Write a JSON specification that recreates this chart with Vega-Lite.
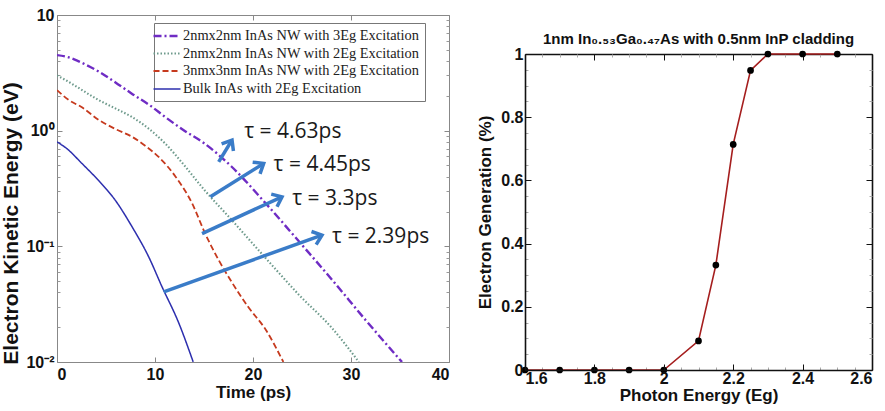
{
  "$schema": "https://vega.github.io/schema/vega-lite/v6.json",
  "background": "white",
  "padding": {"left": 0, "top": 7, "right": 4, "bottom": 2},
  "config": {
    "view": {"stroke": null},
    "axis": {"grid": false, "labelFont": "Liberation Sans", "titleFont": "Liberation Sans", "labelFontWeight": "bold", "titleFontWeight": "bold", "labelColor": "#111", "titleColor": "#111"}
  },
  "spacing": 26,
  "datasets": {
    "decay": [
      {"series": "2nmx2nm InAs NW with 3Eg Excitation", "t": 0, "E": 4.5},
      {"series": "2nmx2nm InAs NW with 3Eg Excitation", "t": 1, "E": 4.35},
      {"series": "2nmx2nm InAs NW with 3Eg Excitation", "t": 2, "E": 4.05},
      {"series": "2nmx2nm InAs NW with 3Eg Excitation", "t": 3, "E": 3.7},
      {"series": "2nmx2nm InAs NW with 3Eg Excitation", "t": 4.25, "E": 3.25},
      {"series": "2nmx2nm InAs NW with 3Eg Excitation", "t": 6, "E": 2.6},
      {"series": "2nmx2nm InAs NW with 3Eg Excitation", "t": 7.6, "E": 2.1},
      {"series": "2nmx2nm InAs NW with 3Eg Excitation", "t": 9.5, "E": 1.65},
      {"series": "2nmx2nm InAs NW with 3Eg Excitation", "t": 11, "E": 1.32},
      {"series": "2nmx2nm InAs NW with 3Eg Excitation", "t": 13, "E": 1.0},
      {"series": "2nmx2nm InAs NW with 3Eg Excitation", "t": 15, "E": 0.78},
      {"series": "2nmx2nm InAs NW with 3Eg Excitation", "t": 17.8, "E": 0.49},
      {"series": "2nmx2nm InAs NW with 3Eg Excitation", "t": 21.3, "E": 0.235},
      {"series": "2nmx2nm InAs NW with 3Eg Excitation", "t": 24.7, "E": 0.11},
      {"series": "2nmx2nm InAs NW with 3Eg Excitation", "t": 28.1, "E": 0.051},
      {"series": "2nmx2nm InAs NW with 3Eg Excitation", "t": 31.5, "E": 0.023},
      {"series": "2nmx2nm InAs NW with 3Eg Excitation", "t": 35.2, "E": 0.01},
      {"series": "2nmx2nm InAs NW with 2Eg Excitation", "t": 0, "E": 3.0},
      {"series": "2nmx2nm InAs NW with 2Eg Excitation", "t": 1, "E": 2.7},
      {"series": "2nmx2nm InAs NW with 2Eg Excitation", "t": 2, "E": 2.4},
      {"series": "2nmx2nm InAs NW with 2Eg Excitation", "t": 4.25, "E": 1.84},
      {"series": "2nmx2nm InAs NW with 2Eg Excitation", "t": 6, "E": 1.55},
      {"series": "2nmx2nm InAs NW with 2Eg Excitation", "t": 7.6, "E": 1.32},
      {"series": "2nmx2nm InAs NW with 2Eg Excitation", "t": 9.3, "E": 1.05},
      {"series": "2nmx2nm InAs NW with 2Eg Excitation", "t": 11, "E": 0.78},
      {"series": "2nmx2nm InAs NW with 2Eg Excitation", "t": 13, "E": 0.5},
      {"series": "2nmx2nm InAs NW with 2Eg Excitation", "t": 15, "E": 0.31},
      {"series": "2nmx2nm InAs NW with 2Eg Excitation", "t": 17.8, "E": 0.17},
      {"series": "2nmx2nm InAs NW with 2Eg Excitation", "t": 21.3, "E": 0.079},
      {"series": "2nmx2nm InAs NW with 2Eg Excitation", "t": 24.7, "E": 0.038},
      {"series": "2nmx2nm InAs NW with 2Eg Excitation", "t": 28.1, "E": 0.0195},
      {"series": "2nmx2nm InAs NW with 2Eg Excitation", "t": 30.8, "E": 0.01},
      {"series": "3nmx3nm InAs NW with 2Eg Excitation", "t": 0, "E": 2.24},
      {"series": "3nmx3nm InAs NW with 2Eg Excitation", "t": 1.2, "E": 1.84},
      {"series": "3nmx3nm InAs NW with 2Eg Excitation", "t": 2.5, "E": 1.6},
      {"series": "3nmx3nm InAs NW with 2Eg Excitation", "t": 4.25, "E": 1.24},
      {"series": "3nmx3nm InAs NW with 2Eg Excitation", "t": 6, "E": 1.03},
      {"series": "3nmx3nm InAs NW with 2Eg Excitation", "t": 7.65, "E": 0.886},
      {"series": "3nmx3nm InAs NW with 2Eg Excitation", "t": 9, "E": 0.74},
      {"series": "3nmx3nm InAs NW with 2Eg Excitation", "t": 10.4, "E": 0.59},
      {"series": "3nmx3nm InAs NW with 2Eg Excitation", "t": 12.1, "E": 0.4},
      {"series": "3nmx3nm InAs NW with 2Eg Excitation", "t": 13.8, "E": 0.234},
      {"series": "3nmx3nm InAs NW with 2Eg Excitation", "t": 15.1, "E": 0.13},
      {"series": "3nmx3nm InAs NW with 2Eg Excitation", "t": 16.5, "E": 0.076},
      {"series": "3nmx3nm InAs NW with 2Eg Excitation", "t": 17.9, "E": 0.048},
      {"series": "3nmx3nm InAs NW with 2Eg Excitation", "t": 19.5, "E": 0.03},
      {"series": "3nmx3nm InAs NW with 2Eg Excitation", "t": 21.3, "E": 0.019},
      {"series": "3nmx3nm InAs NW with 2Eg Excitation", "t": 23.1, "E": 0.01},
      {"series": "Bulk InAs with 2Eg Excitation", "t": 0, "E": 0.8},
      {"series": "Bulk InAs with 2Eg Excitation", "t": 1, "E": 0.7},
      {"series": "Bulk InAs with 2Eg Excitation", "t": 2.55, "E": 0.52},
      {"series": "Bulk InAs with 2Eg Excitation", "t": 4.25, "E": 0.37},
      {"series": "Bulk InAs with 2Eg Excitation", "t": 5.95, "E": 0.25},
      {"series": "Bulk InAs with 2Eg Excitation", "t": 7.65, "E": 0.148},
      {"series": "Bulk InAs with 2Eg Excitation", "t": 9.36, "E": 0.081},
      {"series": "Bulk InAs with 2Eg Excitation", "t": 10.7, "E": 0.045},
      {"series": "Bulk InAs with 2Eg Excitation", "t": 12.4, "E": 0.022},
      {"series": "Bulk InAs with 2Eg Excitation", "t": 13.9, "E": 0.01}
    ],
    "lifetimes": [
      {"x1": 16.5, "y1": 0.538, "x2": 17.86, "y2": 0.83, "label": "τ = 4.63ps", "lx": 19.1, "ly": 0.98},
      {"x1": 15.65, "y1": 0.268, "x2": 21.09, "y2": 0.521, "label": "τ = 4.45ps", "lx": 22.1, "ly": 0.504},
      {"x1": 14.8, "y1": 0.129, "x2": 22.96, "y2": 0.268, "label": "τ = 3.3ps", "lx": 24.0, "ly": 0.259},
      {"x1": 10.89, "y1": 0.0404, "x2": 27.04, "y2": 0.125, "label": "τ = 2.39ps", "lx": 28.06, "ly": 0.121}
    ],
    "generation": [
      {"Eph": 1.6, "G": 0},
      {"Eph": 1.7, "G": 0},
      {"Eph": 1.8, "G": 0},
      {"Eph": 1.9, "G": 0},
      {"Eph": 2.0, "G": 0},
      {"Eph": 2.1, "G": 0.092},
      {"Eph": 2.15, "G": 0.332},
      {"Eph": 2.2, "G": 0.714},
      {"Eph": 2.25, "G": 0.948},
      {"Eph": 2.3, "G": 1},
      {"Eph": 2.4, "G": 1},
      {"Eph": 2.5, "G": 1}
    ]
  },
  "hconcat": [
    {
      "width": 392,
      "height": 347,
      "resolve": {"axis": {"x": "independent", "y": "independent"}},
      "layer": [
        {
          "data": {"name": "decay"},
          "mark": {"type": "line", "interpolate": "monotone", "clip": true},
          "encoding": {
            "x": {"field": "t", "type": "quantitative", "scale": {"domain": [0, 40], "nice": false},
              "axis": {"orient": "bottom", "values": [0, 10, 20, 30, 40], "tickSize": -5, "tickColor": "#888", "domainColor": "#888", "labelFontSize": 16, "labelPadding": 9, "title": "Time (ps)", "titleFontSize": 17, "titlePadding": 2}},
            "y": {"field": "E", "type": "quantitative", "scale": {"type": "log", "domain": [0.01, 10], "nice": false},
              "axis": {"orient": "left", "values": [0.01, 0.1, 1, 10], "tickSize": -5, "tickColor": "#888", "domainColor": "#888", "labelFontSize": 16, "labelPadding": 8,
                "labelExpr": "datum.value >= 9 ? '10' : datum.value >= 0.9 ? '10⁰' : datum.value >= 0.09 ? '10⁻¹' : '10⁻²'",
                "title": "Electron Kinetic Energy (eV)", "titleFontSize": 21, "titlePadding": 4, "titleY": 208}},
            "color": {"field": "series", "type": "nominal",
              "scale": {"domain": ["2nmx2nm InAs NW with 3Eg Excitation", "2nmx2nm InAs NW with 2Eg Excitation", "3nmx3nm InAs NW with 2Eg Excitation", "Bulk InAs with 2Eg Excitation"],
                "range": ["#6f2cc4", "#6e9a8c", "#c63a1e", "#2d2fae"]},
              "legend": {"orient": "none", "legendX": 97, "legendY": 8, "title": null, "labelFont": "Liberation Serif", "labelFontSize": 14.4, "labelColor": "#222", "labelLimit": 400,
                "symbolType": "M-2,0L2,0", "symbolSize": 182, "symbolStrokeWidth": 2, "labelOffset": 8, "rowPadding": 2.5, "padding": 5,
                "strokeColor": "#777", "fillColor": "white"}},
            "strokeDash": {"field": "series", "type": "nominal",
              "scale": {"domain": ["2nmx2nm InAs NW with 3Eg Excitation", "2nmx2nm InAs NW with 2Eg Excitation", "3nmx3nm InAs NW with 2Eg Excitation", "Bulk InAs with 2Eg Excitation"],
                "range": [[8, 3, 2, 3], [1.5, 2], [6, 3], [1, 0]]}},
            "strokeWidth": {"field": "series", "type": "nominal",
              "scale": {"domain": ["2nmx2nm InAs NW with 3Eg Excitation", "2nmx2nm InAs NW with 2Eg Excitation", "3nmx3nm InAs NW with 2Eg Excitation", "Bulk InAs with 2Eg Excitation"],
                "range": [2.4, 1.5, 2.4, 2.4]}, "legend": null}
          }
        },
        {
          "data": {"name": "decay"},
          "mark": {"type": "point", "opacity": 0},
          "encoding": {
            "x": {"field": "t", "type": "quantitative", "axis": {"orient": "top", "values": [0, 10, 20, 30, 40], "labels": false, "tickSize": -5, "tickColor": "#888", "domainColor": "#888", "title": null}},
            "y": {"field": "E", "type": "quantitative", "scale": {"type": "log"}, "axis": {"orient": "right", "values": [0.01, 0.1, 1, 10], "labels": false, "tickSize": -5, "tickColor": "#888", "domainColor": "#888", "title": null}}
          }
        },
        {
          "data": {"name": "decay"},
          "mark": {"type": "point", "opacity": 0},
          "encoding": {
            "x": {"field": "t", "type": "quantitative", "axis": null},
            "y": {"field": "E", "type": "quantitative", "scale": {"type": "log"}, "axis": {"orient": "left", "values": [0.02, 0.03, 0.04, 0.05, 0.06, 0.07, 0.08, 0.09, 0.2, 0.3, 0.4, 0.5, 0.6, 0.7, 0.8, 0.9, 2, 3, 4, 5, 6, 7, 8, 9], "labels": false, "domain": false, "tickSize": -3, "tickColor": "#999", "title": null}}
          }
        },
        {
          "data": {"name": "decay"},
          "mark": {"type": "point", "opacity": 0},
          "encoding": {
            "x": {"field": "t", "type": "quantitative", "axis": null},
            "y": {"field": "E", "type": "quantitative", "scale": {"type": "log"}, "axis": {"orient": "right", "values": [0.02, 0.03, 0.04, 0.05, 0.06, 0.07, 0.08, 0.09, 0.2, 0.3, 0.4, 0.5, 0.6, 0.7, 0.8, 0.9, 2, 3, 4, 5, 6, 7, 8, 9], "labels": false, "domain": false, "tickSize": -3, "tickColor": "#999", "title": null}}
          }
        },
        {
          "data": {"name": "lifetimes"},
          "mark": {"type": "rule", "color": "#3a7cc8", "strokeWidth": 3.5},
          "encoding": {
            "x": {"field": "x1", "type": "quantitative", "axis": null},
            "y": {"field": "y1", "type": "quantitative", "scale": {"type": "log"}, "axis": null},
            "x2": {"field": "x2"},
            "y2": {"field": "y2"}
          }
        },
        {
          "data": {"name": "lifetimes"},
          "transform": [
            {"calculate": "atan2(-log(datum.y2 / datum.y1) / LN10 * 115.67, (datum.x2 - datum.x1) * 9.8) * 180 / PI", "as": "heading"}
          ],
          "mark": {"type": "point", "shape": "M-1,-0.8L0,0L-1,0.8", "filled": false, "color": "#3a7cc8", "strokeWidth": 3.5, "size": 300, "opacity": 1},
          "encoding": {
            "x": {"field": "x2", "type": "quantitative", "axis": null},
            "y": {"field": "y2", "type": "quantitative", "scale": {"type": "log"}, "axis": null},
            "angle": {"field": "heading", "type": "quantitative", "scale": null}
          }
        },
        {
          "data": {"name": "lifetimes"},
          "mark": {"type": "text", "align": "left", "baseline": "middle", "font": "Open Sans", "fontSize": 21, "color": "#1a1a1a"},
          "encoding": {
            "x": {"field": "lx", "type": "quantitative", "axis": null},
            "y": {"field": "ly", "type": "quantitative", "scale": {"type": "log"}, "axis": null},
            "text": {"field": "label"}
          }
        }
      ]
    },
    {
      "spacing": 0,
      "vconcat": [
        {
          "width": 347,
          "height": 17,
          "data": {"values": []},
          "mark": {"type": "point", "opacity": 0}
        },
        {
          "width": 347,
          "height": 316,
          "title": {"text": "1nm In₀.₅₃Ga₀.₄₇As with 0.5nm InP cladding", "font": "Liberation Sans", "fontSize": 15, "fontWeight": "bold", "color": "#111", "offset": -1, "anchor": "middle"},
          "data": {"name": "generation"},
          "resolve": {"axis": {"x": "independent", "y": "independent"}},
          "layer": [
            {
              "mark": {"type": "line", "color": "#a51e1e", "strokeWidth": 1.6},
              "encoding": {
                "x": {"field": "Eph", "type": "quantitative", "scale": {"domain": [1.6, 2.6], "nice": false},
                  "axis": {"orient": "bottom", "values": [1.6, 1.8, 2.0, 2.2, 2.4, 2.6], "format": "~g", "tickSize": -6, "tickColor": "#111", "domainColor": "#111", "domainWidth": 1.6, "labelFontSize": 16, "labelPadding": 6, "title": "Photon Energy (Eg)", "titleFontSize": 17, "titlePadding": 1, "zindex": 1}},
                "y": {"field": "G", "type": "quantitative", "scale": {"domain": [0, 1], "nice": false},
                  "axis": {"orient": "left", "values": [0, 0.2, 0.4, 0.6, 0.8, 1], "format": "~g", "tickSize": -6, "tickColor": "#111", "domainColor": "#111", "domainWidth": 1.6, "labelFontSize": 16, "labelPadding": 8, "title": "Electron Generation (%)", "titleFontSize": 17, "titlePadding": 6, "zindex": 1}}
              }
            },
            {
              "mark": {"type": "point", "filled": true, "color": "#000", "size": 45, "opacity": 1},
              "encoding": {
                "x": {"field": "Eph", "type": "quantitative", "axis": {"orient": "top", "values": [1.6, 1.8, 2.0, 2.2, 2.4, 2.6], "labels": false, "tickSize": -6, "tickColor": "#111", "domainColor": "#111", "domainWidth": 1.6, "title": null}},
                "y": {"field": "G", "type": "quantitative", "axis": {"orient": "right", "values": [0, 0.2, 0.4, 0.6, 0.8, 1], "labels": false, "tickSize": -6, "tickColor": "#111", "domainColor": "#111", "domainWidth": 1.6, "title": null}}
              }
            },
            {
              "mark": {"type": "point", "opacity": 0},
              "encoding": {
                "x": {"field": "Eph", "type": "quantitative", "axis": {"orient": "bottom", "values": [1.65, 1.7, 1.75, 1.85, 1.9, 1.95, 2.05, 2.1, 2.15, 2.25, 2.3, 2.35, 2.45, 2.5, 2.55], "labels": false, "domain": false, "tickSize": -3, "tickColor": "#aaa", "title": null}},
                "y": {"field": "G", "type": "quantitative", "axis": {"orient": "left", "values": [0.05, 0.1, 0.15, 0.25, 0.3, 0.35, 0.45, 0.5, 0.55, 0.65, 0.7, 0.75, 0.85, 0.9, 0.95], "labels": false, "domain": false, "tickSize": -3, "tickColor": "#aaa", "title": null}}
              }
            },
            {
              "mark": {"type": "point", "opacity": 0},
              "encoding": {
                "x": {"field": "Eph", "type": "quantitative", "axis": {"orient": "top", "values": [1.65, 1.7, 1.75, 1.85, 1.9, 1.95, 2.05, 2.1, 2.15, 2.25, 2.3, 2.35, 2.45, 2.5, 2.55], "labels": false, "domain": false, "tickSize": -3, "tickColor": "#aaa", "title": null}},
                "y": {"field": "G", "type": "quantitative", "axis": {"orient": "right", "values": [0.05, 0.1, 0.15, 0.25, 0.3, 0.35, 0.45, 0.5, 0.55, 0.65, 0.7, 0.75, 0.85, 0.9, 0.95], "labels": false, "domain": false, "tickSize": -3, "tickColor": "#aaa", "title": null}}
              }
            }
          ]
        }
      ]
    }
  ]
}
